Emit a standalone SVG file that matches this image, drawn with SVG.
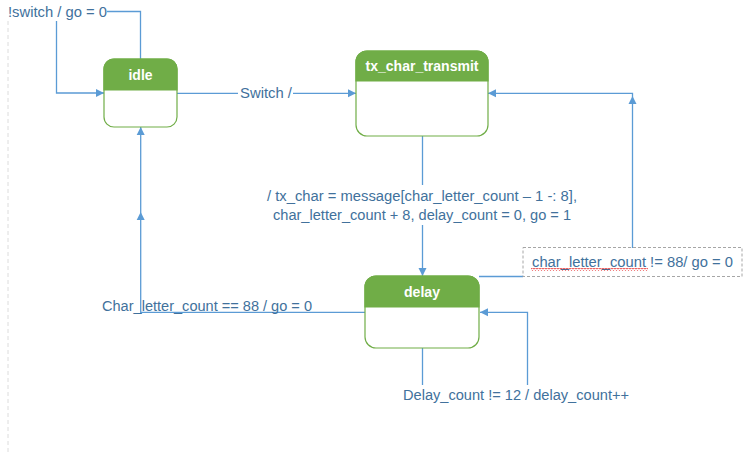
<svg xmlns="http://www.w3.org/2000/svg" xmlns:xlink="http://www.w3.org/1999/xlink" width="750" height="452" viewBox="0 0 750 452">
<style>
.body{fill:#ffffff;stroke:#70AD47;stroke-width:1.2}
.head{fill:#70AD47;stroke:#70AD47;stroke-width:1.2}
.title{font-family:"Liberation Sans",Arial,sans-serif;font-weight:bold;font-size:14px;fill:#ffffff;text-anchor:middle}
.lbl{font-family:"Liberation Sans",Arial,sans-serif;font-size:14px;fill:#41719C}
.wire{fill:none;stroke:#5B9BD5;stroke-width:1.3}
.arr{fill:#5B9BD5}
</style>
<defs>
<path id="ah" d="M0,0 L-8,-4 L-8,4 Z"/>
<pattern id="squig" width="3" height="3" patternUnits="userSpaceOnUse">
<path d="M0,2.4 L1.5,0.6 L3,2.4" stroke="#E00000" stroke-width="0.8" fill="none"/>
</pattern>
</defs>
<rect width="750" height="452" fill="#ffffff"/>
<line x1="8" y1="21" x2="8" y2="452" stroke="#DCDCDC" stroke-width="1" stroke-dasharray="4,3"/>

<g id="connectors">
<g id="c-idle-self">
<path class="wire" d="M140.5,59 V11.5 H107"/>
<path class="wire" d="M56.5,21 V93 H104"/>
<use xlink:href="#ah" class="arr" transform="translate(104,93)"/>
<text class="lbl" x="8" y="16.5" textLength="99" lengthAdjust="spacingAndGlyphs">!switch / go = 0</text>
</g>
<g id="c-idle-tx">
<path class="wire" d="M177,93.3 H238"/>
<path class="wire" d="M293,93.3 H356"/>
<use xlink:href="#ah" class="arr" transform="translate(356,93.3)"/>
<text class="lbl" x="240" y="98" textLength="52" lengthAdjust="spacingAndGlyphs">Switch /</text>
</g>
<g id="c-tx-delay">
<path class="wire" d="M422.5,136 V185"/>
<path class="wire" d="M422.5,225 V276"/>
<use xlink:href="#ah" class="arr" transform="translate(422.5,276) rotate(90)"/>
<text class="lbl" x="267" y="200.5" textLength="310" lengthAdjust="spacingAndGlyphs">/ tx_char = message[char_letter_count – 1 -: 8],</text>
<text class="lbl" x="273" y="219.5" textLength="298" lengthAdjust="spacingAndGlyphs">char_letter_count + 8, delay_count = 0, go = 1</text>
</g>
<g id="c-delay-tx">
<path class="wire" d="M479,276.5 H523"/>
<path class="wire" d="M632.5,248 V93.3 H488"/>
<use xlink:href="#ah" class="arr" transform="translate(632.5,96) rotate(-90)"/>
<use xlink:href="#ah" class="arr" transform="translate(488,93.3) rotate(180)"/>
<rect x="523" y="247.5" width="219" height="29" fill="none" stroke="#A6A6A6" stroke-width="1" stroke-dasharray="3,2"/>
<text class="lbl" x="532" y="267" textLength="201" lengthAdjust="spacingAndGlyphs">char_letter_count != 88/ go = 0</text>
<rect x="531" y="268" width="117" height="3" fill="url(#squig)"/>
</g>
<g id="c-delay-idle">
<path class="wire" d="M365,312.3 H140.7 V127"/>
<use xlink:href="#ah" class="arr" transform="translate(140.7,212) rotate(-90)"/>
<use xlink:href="#ah" class="arr" transform="translate(140.7,127) rotate(-90)"/>
<text class="lbl" x="102" y="311" textLength="210" lengthAdjust="spacingAndGlyphs">Char_letter_count == 88 / go = 0</text>
</g>
<g id="c-delay-self">
<path class="wire" d="M422.5,348 V385"/>
<path class="wire" d="M527.5,385 V312.3 H480"/>
<use xlink:href="#ah" class="arr" transform="translate(480,312.3) rotate(180)"/>
<text class="lbl" x="403" y="399.5" textLength="226" lengthAdjust="spacingAndGlyphs">Delay_count != 12 / delay_count++</text>
</g>
</g>

<g id="idle">
<rect class="body" x="104" y="59" width="73" height="68" rx="10" ry="10"/>
<path class="head" d="M104,90 V69 A10,10 0 0 1 114,59 H167 A10,10 0 0 1 177,69 V90 Z"/>
<text class="title" x="140.5" y="79.5" textLength="24" lengthAdjust="spacingAndGlyphs">idle</text>
</g>
<g id="tx_char_transmit">
<rect class="body" x="356" y="51" width="132" height="85" rx="11" ry="11"/>
<path class="head" d="M356,81 V62 A11,11 0 0 1 367,51 H477 A11,11 0 0 1 488,62 V81 Z"/>
<text class="title" x="422" y="70.5" textLength="113" lengthAdjust="spacingAndGlyphs">tx_char_transmit</text>
</g>
<g id="delay">
<rect class="body" x="365" y="276" width="114" height="72" rx="11" ry="11"/>
<path class="head" d="M365,307 V287 A11,11 0 0 1 376,276 H468 A11,11 0 0 1 479,287 V307 Z"/>
<text class="title" x="422" y="297" textLength="36" lengthAdjust="spacingAndGlyphs">delay</text>
</g>
</svg>
